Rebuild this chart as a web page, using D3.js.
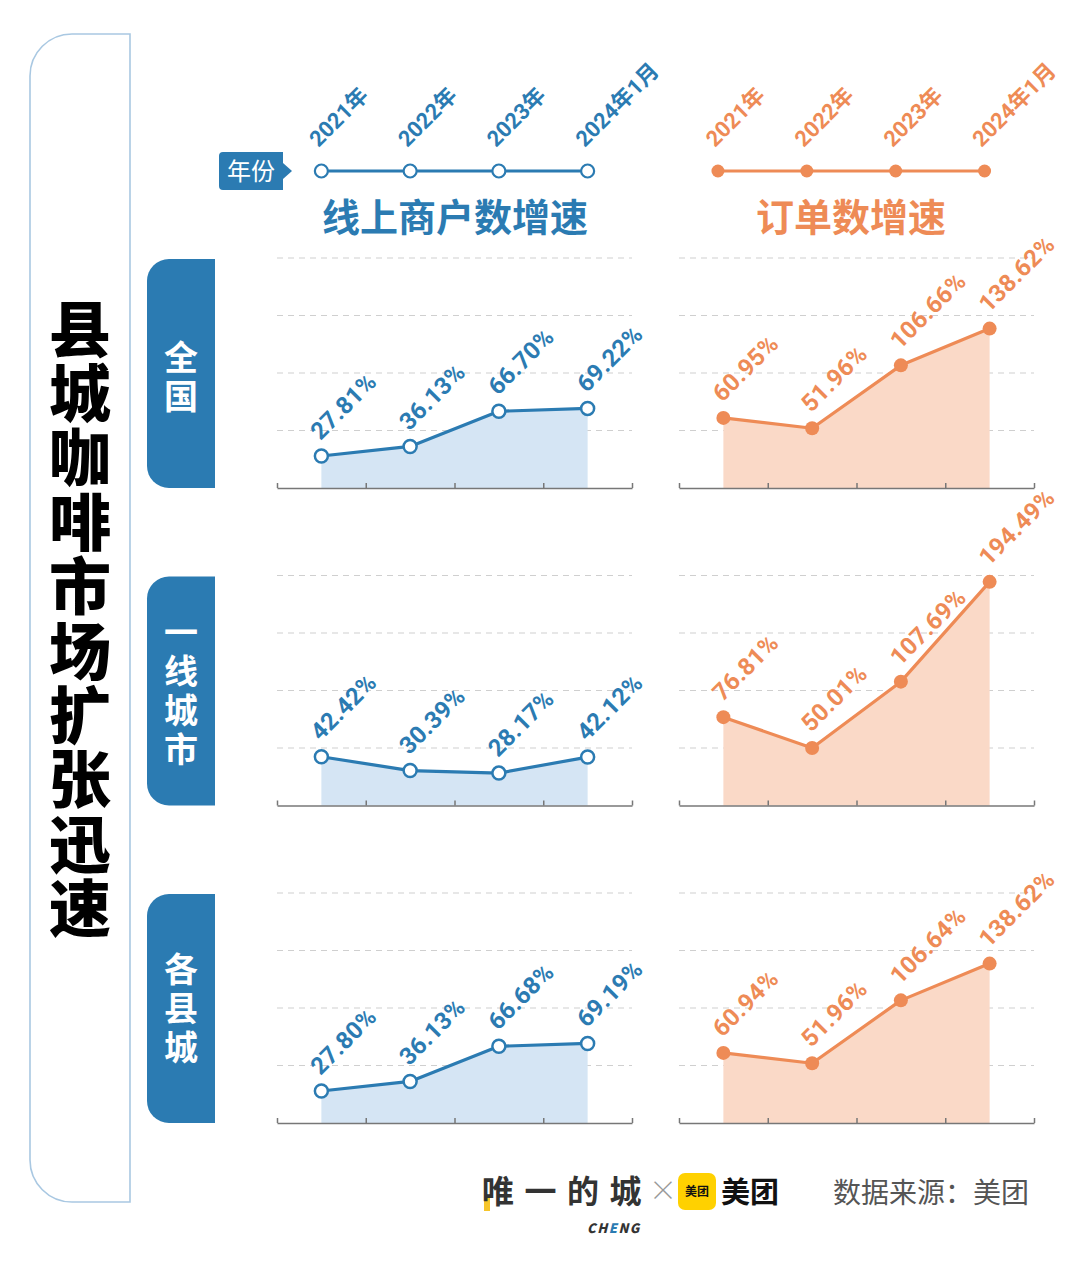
<!DOCTYPE html>
<html>
<head>
<meta charset="utf-8">
<script src="https://cdn.jsdelivr.net/npm/d3@7"></script>
<style>
  html, body { margin: 0; padding: 0; background: #fff; }
  svg { display: block; }
  text { font-family: "Noto Sans CJK SC", "Noto Sans", sans-serif; }
  .num { font-family: Roboto, "Noto Sans CJK SC", sans-serif; font-weight: 700; }
  .vert { writing-mode: vertical-rl; }
</style>
</head>
<body>
<svg id="chart" width="1080" height="1267"></svg>
<script>
// ---------------- data ----------------
const years = ["2021年", "2022年", "2023年", "2024年1月"];
const regions = ["全国", "一线城市", "各县城"];
const merchantNational = [27.81, 36.13, 66.70, 69.22];
const merchantTier1    = [42.42, 30.39, 28.17, 42.12];
const merchantCounty   = [27.80, 36.13, 66.68, 69.19];
const orderNational    = [60.95, 51.96, 106.66, 138.62];
const orderTier1       = [76.81, 50.01, 107.69, 194.49];
const orderCounty      = [60.94, 51.96, 106.64, 138.62];
const gridTicks = [50, 100, 150, 200];
const mainTitle = "县城咖啡市场扩张迅速";
const leftTitle = "线上商户数增速";
const rightTitle = "订单数增速";
const yearTag = "年份";
const brandText = "唯一的城";
const sourceText = "数据来源：美团";

const merchantSeries = [merchantNational, merchantTier1, merchantCounty];
const orderSeries = [orderNational, orderTier1, orderCounty];

// ---------------- styles ----------------
const BLUE = "#2b7bb2";
const BLUE_FILL = "#d5e5f4";
const ORANGE = "#ee8b56";
const ORANGE_FILL = "#fad9c7";
const GRID = "#cfcfcf";
const AXIS = "#777";

const svg = d3.select("#chart");

// ---------------- left frame + main title ----------------
(function () {
  const x0 = 30, x1 = 130, y0 = 34, y1 = 1202, r = 42;
  const p = d3.path();
  p.moveTo(x1, y0);
  p.lineTo(x0 + r, y0);
  p.arcTo(x0, y0, x0, y0 + r, r);
  p.lineTo(x0, y1 - r);
  p.arcTo(x0, y1, x0 + r, y1, r);
  p.lineTo(x1, y1);
  p.closePath();
  svg.append("path").attr("d", p.toString())
    .attr("fill", "none").attr("stroke", "#a9c8e2").attr("stroke-width", 1.6);

  svg.append("text")
    .attr("class", "vert")
    .attr("x", 80).attr("y", 298)
    .attr("font-size", 62)
    .attr("font-weight", 900)
    .attr("letter-spacing", 2.4)
    .attr("fill", "#000")
    .text(mainTitle);
})();

// ---------------- panels ----------------
const baselines = [488, 805.5, 1123];
const chartH = 230;
const leftRange = [277, 632];
const rightRange = [679, 1034];

function panel(g, xRange, baseline, values, color, fill, hollow) {
  const x = d3.scaleBand().domain(years).range(xRange).paddingInner(0).paddingOuter(0);
  const cx = d => x(d) + x.bandwidth() / 2;
  const y = d3.scaleLinear().domain([0, 200]).range([baseline, baseline - chartH]);
  const edge = d3.scaleLinear().domain([0, years.length]).range(xRange);

  // gridlines
  g.append("g").selectAll("line").data(gridTicks).join("line")
    .attr("x1", xRange[0]).attr("x2", xRange[1])
    .attr("y1", d => y(d)).attr("y2", d => y(d))
    .attr("stroke", GRID).attr("stroke-width", 1).attr("stroke-dasharray", "6,5");

  const pts = years.map((yr, i) => ({ yr, v: values[i] }));

  // area
  const area = d3.area().x(d => cx(d.yr)).y0(baseline).y1(d => y(d.v));
  g.append("path").datum(pts).attr("d", area).attr("fill", fill);

  // axis
  const axis = d3.axisBottom(edge).tickValues(d3.range(0, years.length + 1))
    .tickSizeInner(-5).tickSizeOuter(0).tickFormat("");
  const ag = g.append("g").attr("transform", `translate(0,${baseline})`).call(axis);
  ag.select(".domain").attr("stroke", AXIS).attr("stroke-width", 1.5);
  ag.selectAll(".tick line").attr("stroke", AXIS).attr("stroke-width", 1.5);

  // line
  const line = d3.line().x(d => cx(d.yr)).y(d => y(d.v));
  g.append("path").datum(pts).attr("d", line)
    .attr("fill", "none").attr("stroke", color).attr("stroke-width", 3.2)
    .attr("stroke-linejoin", "round");

  // points
  g.append("g").selectAll("circle").data(pts).join("circle")
    .attr("cx", d => cx(d.yr)).attr("cy", d => y(d.v))
    .attr("r", hollow ? 6.5 : 7)
    .attr("fill", hollow ? "#fff" : color)
    .attr("stroke", hollow ? color : "none")
    .attr("stroke-width", 2.5);

  // labels
  g.append("g").selectAll("text").data(pts).join("text")
    .attr("class", "num")
    .attr("transform", d => `translate(${cx(d.yr) - 1},${y(d.v) - 15}) rotate(-45)`)
    .attr("font-size", 24)
    .attr("font-weight", 900)
    .attr("letter-spacing", 0.3)
    .attr("fill", color)
    .text(d => d3.format(".2f")(d.v) + "%");
}

regions.forEach((reg, i) => {
  const base = baselines[i];
  // row label tab
  const bx0 = 147, bx1 = 215, by0 = base - 229, by1 = base, r = 22;
  const p = d3.path();
  p.moveTo(bx1, by0);
  p.lineTo(bx0 + r, by0);
  p.arcTo(bx0, by0, bx0, by0 + r, r);
  p.lineTo(bx0, by1 - r);
  p.arcTo(bx0, by1, bx0 + r, by1, r);
  p.lineTo(bx1, by1);
  p.closePath();
  svg.append("path").attr("d", p.toString()).attr("fill", BLUE);

  const n = Array.from(reg).length;
  const fs = 34, gap = 5;
  const total = n * fs + (n - 1) * gap;
  const cy = (by0 + by1) / 2 + (i === 0 ? 3 : 0);
  svg.append("text").attr("class", "vert")
    .attr("x", 181).attr("y", cy - total / 2)
    .attr("font-size", fs).attr("font-weight", 700)
    .attr("letter-spacing", gap).attr("fill", "#fff")
    .text(reg);

  panel(svg.append("g"), leftRange, base, merchantSeries[i], BLUE, BLUE_FILL, true);
  panel(svg.append("g"), rightRange, base, orderSeries[i], ORANGE, ORANGE_FILL, false);
});

// ---------------- header timelines ----------------
function timeline(xRange, color, hollow) {
  const x = d3.scaleBand().domain(years).range(xRange);
  const cx = d => x(d) + x.bandwidth() / 2;
  const ty = 171;
  const g = svg.append("g");
  g.append("line").attr("x1", cx(years[0])).attr("x2", cx(years[years.length - 1]))
    .attr("y1", ty).attr("y2", ty).attr("stroke", color).attr("stroke-width", 3);
  g.selectAll("circle").data(years).join("circle")
    .attr("cx", cx).attr("cy", ty).attr("r", 6.5)
    .attr("fill", hollow ? "#fff" : color)
    .attr("stroke", hollow ? color : "none").attr("stroke-width", 2.2);
  g.selectAll("text").data(years).join("text")
    .attr("class", "num")
    .attr("transform", d => `translate(${cx(d) - 3},${ty - 23}) rotate(-45)`)
    .attr("font-size", 22).attr("fill", color).text(d => d);
}
timeline([277, 632], BLUE, true);
timeline([673.5, 1029], ORANGE, false);

// year tag
(function () {
  const p = d3.path();
  const x0 = 219, x1 = 283, y0 = 152, y1 = 190, r = 4, tip = 292, my = 171;
  p.moveTo(x0 + r, y0);
  p.lineTo(x1, y0);
  p.lineTo(x1, my - 8);
  p.lineTo(tip, my);
  p.lineTo(x1, my + 8);
  p.lineTo(x1, y1);
  p.lineTo(x0 + r, y1);
  p.arcTo(x0, y1, x0, y1 - r, r);
  p.lineTo(x0, y0 + r);
  p.arcTo(x0, y0, x0 + r, y0, r);
  p.closePath();
  svg.append("path").attr("d", p.toString()).attr("fill", BLUE);
  svg.append("text").attr("x", 251).attr("y", 180).attr("text-anchor", "middle")
    .attr("font-size", 24).attr("fill", "#fff").text(yearTag);
})();

// section titles
svg.append("text").attr("x", 455).attr("y", 231).attr("text-anchor", "middle")
  .attr("font-size", 38).attr("font-weight", 700).attr("fill", BLUE).text(leftTitle);
svg.append("text").attr("x", 851).attr("y", 231).attr("text-anchor", "middle")
  .attr("font-size", 38).attr("font-weight", 700).attr("fill", ORANGE).text(rightTitle);

// ---------------- footer ----------------
(function () {
  const fy = 1203;
  svg.append("rect").attr("x", 484).attr("y", 1197).attr("width", 6).attr("height", 14)
    .attr("fill", "#f6c52a");
  const bt = svg.append("text").attr("y", fy)
    .attr("font-size", 32).attr("font-weight", 700).attr("fill", "#333");
  Array.from(brandText).forEach((c, k) => {
    bt.append("tspan").attr("x", 482 + k * 42.5).text(c);
  });
  svg.append("text").attr("x", 663).attr("y", fy - 2).attr("text-anchor", "middle")
    .attr("font-size", 28).attr("font-weight", 300).attr("fill", "#999").text("×");
  svg.append("rect").attr("x", 678).attr("y", 1173).attr("width", 38).attr("height", 37)
    .attr("rx", 7).attr("fill", "#ffd100");
  svg.append("text").attr("x", 697).attr("y", 1196).attr("text-anchor", "middle")
    .attr("font-size", 12).attr("font-weight", 700).attr("fill", "#111").text("美团");
  svg.append("text").attr("x", 721).attr("y", fy)
    .attr("font-size", 29).attr("font-weight", 700).attr("fill", "#111").text("美团");
  const ch = svg.append("text").attr("x", 587).attr("y", 1233)
    .attr("font-size", 13).attr("font-weight", 900).attr("font-style", "italic")
    .attr("font-family", "Roboto, sans-serif").attr("letter-spacing", 1.5).attr("fill", "#333");
  ch.append("tspan").text("CH");
  ch.append("tspan").attr("fill", "#2b7bb2").text("E");
  ch.append("tspan").text("NG");
  svg.append("text").attr("x", 833).attr("y", fy)
    .attr("font-size", 28).attr("fill", "#555").text(sourceText);
})();
</script>
</body>
</html>
